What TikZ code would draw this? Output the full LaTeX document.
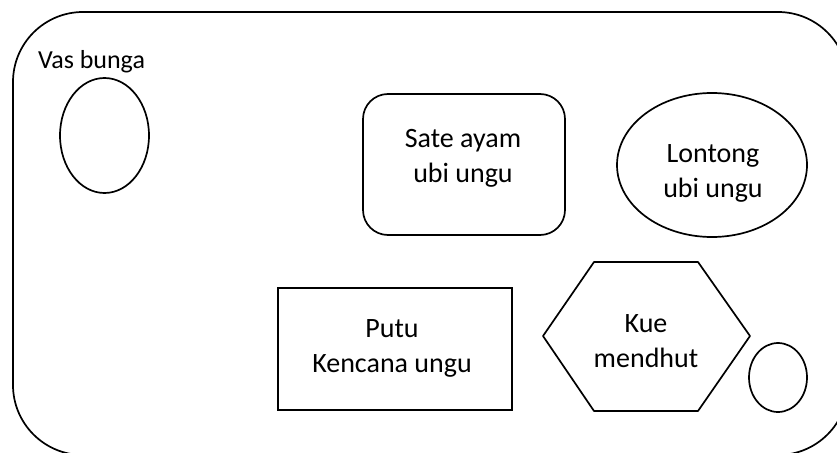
\documentclass[tikz,border=0pt]{standalone}
\usepackage{fontspec}
\setmainfont{Carlito}
\usetikzlibrary{shapes.geometric}
\begin{document}
\begin{tikzpicture}[x=1pt,y=-1pt,
  shp/.style={draw,inner sep=0pt,line width=1.7pt},
  lbl/.style={align=center,inner sep=0pt,font=\fontsize{28}{35}\selectfont},
  oval/.style={shp,ellipse}]
\useasboundingbox (0,0) rectangle (837,452);
\clip (0,0) rectangle (837,452);
\draw[line width=1.7pt,rounded corners=70pt] (13,12) rectangle (848,455);
% vas bunga
\node[oval,minimum width=89pt,minimum height=115pt] (vas) at (104.5,135.5) {};
\node[inner sep=0pt,font=\fontsize{26}{32}\selectfont] (vaslbl) at (91.5,62) {Vas bunga};
% sate
\node[shp,rectangle,rounded corners=25pt,minimum width=202pt,minimum height=141pt] (sate) at (464,164.5) {};
\node[lbl] (satet) at (463,158) {Sate ayam\\ubi ungu};
% lontong
\node[oval,minimum width=190pt,minimum height=144pt] (lont) at (712,165) {};
\node[lbl] (lontt) at (713,173) {Lontong\\ubi ungu};
% putu
\node[shp,rectangle,minimum width=234pt,minimum height=122pt] (putu) at (395,349) {};
\node[lbl] (putut) at (392,348) {Putu\\Kencana ungu};
% kue hexagon
\coordinate (h1) at (543,336);
\coordinate (h2) at (594,262);
\coordinate (h3) at (698,262);
\coordinate (h4) at (750,336);
\coordinate (h5) at (698,411);
\coordinate (h6) at (594,411);
\draw[line width=1.7pt,line join=round] (h1) -- (h2) -- (h3) -- (h4) -- (h5) -- (h6) -- cycle;
\node[lbl] (kue) at (646,341) {Kue\\mendhut};
% small circle
\node[oval,minimum width=58pt,minimum height=69pt] (small) at (778,377.5) {};
\end{tikzpicture}
\end{document}
